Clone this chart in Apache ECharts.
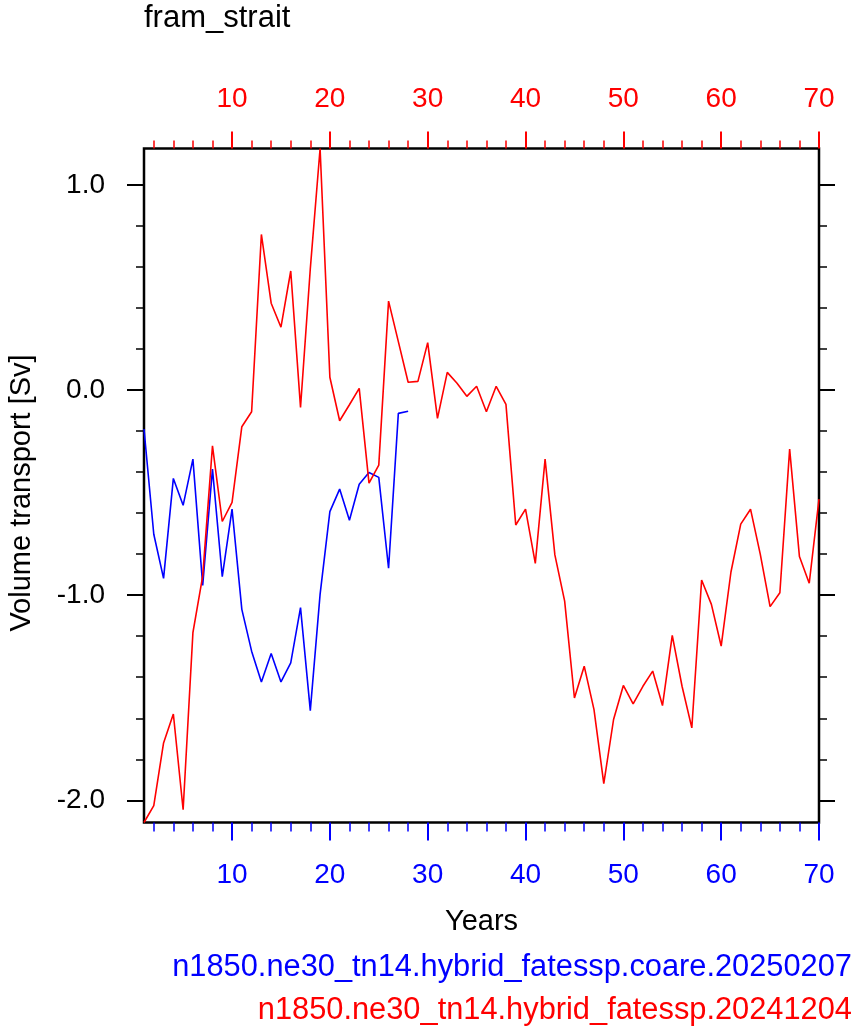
<!DOCTYPE html>
<html><head><meta charset="utf-8">
<script src="https://cdn.jsdelivr.net/npm/echarts@6/dist/echarts.min.js"></script>
<style>html,body{margin:0;padding:0;background:#fff}#c{width:858px;height:1035px}</style>
</head><body><div id="c"></div>
<script>
const titleText = 'fram_strait';
const xName = 'Years';
const yName = 'Volume transport [Sv]';
const blueName = 'n1850.ne30_tn14.hybrid_fatessp.coare.20250207';
const redName = 'n1850.ne30_tn14.hybrid_fatessp.20241204';

const years = [1,2,3,4,5,6,7,8,9,10,11,12,13,14,15,16,17,18,19,20,
  21,22,23,24,25,26,27,28,29,30,31,32,33,34,35,36,37,38,39,40,
  41,42,43,44,45,46,47,48,49,50,51,52,53,54,55,56,57,58,59,60,
  61,62,63,64,65,66,67,68,69,70];

const redValues = [-2.108,-2.026,-1.72,-1.579,-2.046,-1.183,-0.907,-0.272,-0.641,-0.548,
  -0.179,-0.106,0.758,0.423,0.306,0.580,-0.085,0.591,1.177,0.062,
  -0.150,-0.072,0.008,-0.454,-0.366,0.433,0.236,0.038,0.042,0.231,
  -0.138,0.086,0.033,-0.031,0.018,-0.106,0.018,-0.070,-0.658,-0.581,
  -0.845,-0.337,-0.804,-1.029,-1.501,-1.346,-1.558,-1.919,-1.606,-1.44,
  -1.53,-1.444,-1.370,-1.538,-1.196,-1.444,-1.647,-0.926,-1.045,-1.248,
  -0.887,-0.654,-0.581,-0.801,-1.056,-0.988,-0.288,-0.812,-0.942,-0.532];

const blueValues = [-0.19,-0.703,-0.918,-0.431,-0.562,-0.337,-0.952,-0.386,-0.910,-0.581,
  -1.069,-1.273,-1.423,-1.284,-1.423,-1.330,-1.061,-1.563,-0.996,-0.593,
  -0.483,-0.635,-0.459,-0.402,-0.426,-0.869,-0.114,-0.104];

const xMajorTicks = [10,20,30,40,50,60,70];
const xMinorTicks = [2,4,6,8,12,14,16,18,22,24,26,28,32,34,36,38,42,44,46,48,52,54,56,58,62,64,66,68];
const yMajorTicks = [-2,-1,0,1];
const yMinorTicks = [-1.8,-1.6,-1.4,-1.2,-0.8,-0.6,-0.4,-0.2,0.2,0.4,0.6,0.8];

const FONT = '"Liberation Sans", Arial, Helvetica, sans-serif';
const yMin = Math.min(...redValues, ...blueValues);
const yMax = Math.max(...redValues, ...blueValues);

function xAx(pos, color, vals, len, labels, width, extra) {
  return Object.assign({
    type: 'value', position: pos, min: 1, max: 70,
    axisLine: {show: false, onZero: false}, splitLine: {show: false},
    axisTick: {show: true, inside: false, length: len, customValues: vals, lineStyle: {color: color, width: width}},
    axisLabel: {show: labels, customValues: vals, color: color, fontSize: 28, fontFamily: FONT,
      margin: pos === 'bottom' ? 39 : 35}
  }, extra || {});
}
function yAx(pos, vals, len, labels, width, extra) {
  return Object.assign({
    type: 'value', position: pos, min: yMin, max: yMax,
    axisLine: {show: false, onZero: false}, splitLine: {show: false},
    axisTick: {show: true, inside: false, length: len, customValues: vals, lineStyle: {color: '#000', width: width}},
    axisLabel: {show: labels, customValues: vals, color: '#000', fontSize: 28, fontFamily: FONT, margin: 39,
      formatter: v => Number(v).toFixed(1)}
  }, extra || {});
}

const chart = echarts.init(document.getElementById('c'), null, {renderer: 'canvas'});
chart.setOption({
  animation: false,
  backgroundColor: '#fff',
  grid: {left: 144, right: 39, top: 148.5, bottom: 212.5, show: true, borderColor: '#000', borderWidth: 2.5, backgroundColor: 'transparent', containLabel: false},
  xAxis: [
    xAx('bottom', '#0000ff', xMajorTicks, 18, true, 2, {
      name: xName, nameLocation: 'middle', nameGap: 85,
      nameTextStyle: {color: '#000', fontSize: 29, fontFamily: FONT}
    }),
    xAx('bottom', '#0000ff', xMinorTicks, 9, false, 1.5),
    xAx('top', '#ff0000', xMajorTicks, 17, true, 2),
    xAx('top', '#ff0000', xMinorTicks, 8, false, 1.5)
  ],
  yAxis: [
    yAx('left', yMajorTicks, 17, true, 2),
    yAx('left', yMinorTicks, 8, false, 1.5),
    yAx('right', yMajorTicks, 16, false, 2),
    yAx('right', yMinorTicks, 8, false, 1.5)
  ],
  graphic: [
    {type: 'text', x: 144, y: 18, style: {text: titleText, fill: '#000', font: '31px ' + FONT, align: 'left', verticalAlign: 'middle'}},
    {type: 'text', x: 22, y: 493, rotation: Math.PI / 2, style: {text: yName, fill: '#000', font: '29px ' + FONT, align: 'center', verticalAlign: 'middle'}},
    {type: 'text', x: 852, y: 968, style: {text: blueName, fill: '#0000ff', font: '30.8px ' + FONT, align: 'right', verticalAlign: 'middle'}},
    {type: 'text', x: 852, y: 1011, style: {text: redName, fill: '#ff0000', font: '30.8px ' + FONT, align: 'right', verticalAlign: 'middle'}}
  ],
  series: [
    {type: 'line', xAxisIndex: 0, yAxisIndex: 0, showSymbol: false, silent: true,
     data: blueValues.map((v, i) => [years[i], v]), lineStyle: {color: '#0000ff', width: 1.6}, itemStyle: {color: '#0000ff'}},
    {type: 'line', xAxisIndex: 0, yAxisIndex: 0, showSymbol: false, silent: true,
     data: redValues.map((v, i) => [years[i], v]), lineStyle: {color: '#ff0000', width: 1.6}, itemStyle: {color: '#ff0000'}}
  ]
});
</script>
</body></html>
